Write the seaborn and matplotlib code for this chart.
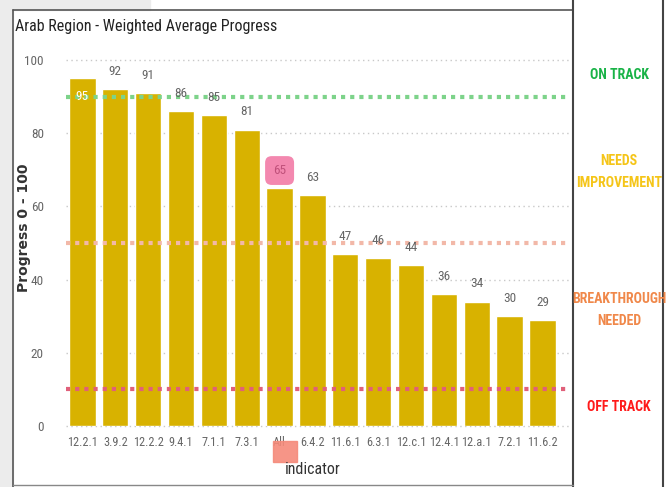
import matplotlib
matplotlib.use("Agg")
import matplotlib.pyplot as plt
import seaborn as sns
import pandas as pd
from matplotlib import font_manager as fm
from matplotlib.patches import Rectangle
from matplotlib.lines import Line2D

indicators = ["12.2.1", "3.9.2", "12.2.2", "9.4.1", "7.1.1", "7.3.1", "All", "6.4.2",
              "11.6.1", "6.3.1", "12.c.1", "12.4.1", "12.a.1", "7.2.1", "11.6.2"]
progress = [95, 92, 91, 86, 85, 81, 65, 63, 47, 46, 44, 36, 34, 30, 29]
yticks = [0, 20, 40, 60, 80, 100]
thresholds = [90, 50, 10]
threshold_colors = ["#7dd38a", "#f2b8a8", "#e0607a"]
status_labels = ["ON TRACK", "NEEDS\nIMPROVEMENT", "BREAKTHROUGH\nNEEDED", "OFF TRACK"]
status_colors = ["#19b347", "#f5c518", "#f0884a", "#ff1a1a"]

df = pd.DataFrame({"indicator": indicators, "progress": progress})

sns.set_theme(style="white")

names = {f.name for f in fm.fontManager.ttflist}
narrow = None
for cand in ["Liberation Sans Narrow", "Roboto Condensed", "Open Sans Condensed", "DejaVu Sans Condensed"]:
    if cand in names:
        narrow = cand
        break
STRETCH = "normal"
if narrow is None:
    narrow = "DejaVu Sans"
    STRETCH = "condensed"
FONT = [narrow, "DejaVu Sans"]
plt.rcParams["font.family"] = FONT
plt.rcParams["font.stretch"] = STRETCH

W, H = 666, 487
fig = plt.figure(figsize=(W / 100, H / 100), dpi=100)
fig.patch.set_facecolor("white")

def fx(px):
    return px / W

def fy(py):
    return 1 - py / H

# background gray strips and frame
fig.add_artist(Rectangle((0, 0), fx(13), 1, transform=fig.transFigure, color="#ececec", zorder=0))
fig.add_artist(Rectangle((0, fy(10)), fx(150), 10 / H, transform=fig.transFigure, color="#ececec", zorder=0))
for (x0, y0, x1, y1, c, lw) in [(13, 10, 573, 10, "#555555", 1.2), (13, 10, 13, 487, "#555555", 1.2),
                                (573, 0, 573, 487, "#444444", 1.5), (663, 0, 663, 487, "#444444", 1.5),
                                (13, 485, 573, 485, "#888888", 1.0)]:
    fig.add_artist(Line2D([fx(x0), fx(x1)], [fy(y0), fy(y1)], transform=fig.transFigure, color=c, lw=lw))

left, right = 66, 570
top, bottom = 60, 426
ax = fig.add_axes([fx(left), fy(bottom), (right - left) / W, (bottom - top) / H])
ax.set_facecolor("none")

sns.barplot(data=df, x="indicator", y="progress", color="#d8b200", saturation=1, width=0.8, ax=ax, zorder=2)
ax.set_xlim(-0.5, -0.5 + (right - left) / 32.86)
ax.set_ylim(0, 100)

# dotted gridlines
for t in yticks:
    ax.axhline(t, color="#c8c8c8", lw=1, ls=(0, (1, 2.5)), zorder=1, clip_on=False)
for t, c in zip(thresholds, threshold_colors):
    ax.axhline(t, color=c, lw=3, ls=(0, (1, 1.2)), zorder=3)

for s in ax.spines.values():
    s.set_visible(False)
ax.set_yticks(yticks)
ax.set_yticklabels([str(t) for t in yticks], color="#666666", fontsize=9.5)
ax.tick_params(axis="y", length=0, pad=16)
ax.tick_params(axis="x", length=0, pad=7, labelsize=8.8, labelcolor="#666666")

# value labels
for i, v in enumerate(progress):
    if v >= 94:
        ax.text(i, v - 5, str(v), ha="center", va="center", color="white", fontsize=9.5, zorder=5)
    elif indicators[i] == "All":
        ax.text(i, v + 4.8, str(v), ha="center", va="center", color="#c0507a", fontsize=9.5, zorder=6,
                bbox=dict(boxstyle="round,pad=0.6,rounding_size=0.5", fc="#f27ba6", ec="none", alpha=0.9))
    else:
        ax.text(i, v + 4.8, str(v), ha="center", va="center", color="#666666", fontsize=9.5, zorder=5)

# highlight behind "All" tick label
fig.add_artist(Rectangle((fx(273), fy(462)), 24 / W, 21 / H, transform=fig.transFigure,
                         color="#f58a7a", zorder=1, alpha=0.9))

ax.set_xlabel("")
ax.set_ylabel("")
fig.text(fx(313), fy(470), "indicator", fontsize=11.5, color="#333333", ha="center", va="center")
fig.text(fx(24), fy(228), "Progress 0 - 100", fontsize=10, color="#333333", fontweight="bold",
         family=["DejaVu Sans"], stretch="normal", rotation=90, ha="center", va="center")

fig.text(fx(15), fy(26), "Arab Region - Weighted Average Progress", fontsize=11.5, color="#222222",
         ha="left", va="center")

ys = [75, 172, 310, 407]
for lab, c, y in zip(status_labels, status_colors, ys):
    fig.text(fx(619), fy(y), lab, color=c, fontsize=10, fontweight="bold", ha="center", va="center",
             linespacing=1.7)

fig.savefig("out.png", dpi=100)
